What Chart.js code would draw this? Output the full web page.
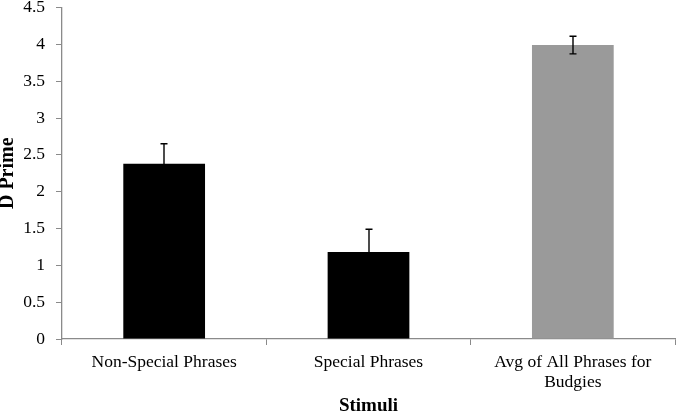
<!DOCTYPE html>
<html>
<head>
<meta charset="utf-8">
<script src="https://cdn.jsdelivr.net/npm/chart.js@4"></script>
<style>
  html, body { margin: 0; padding: 0; background: #fff; }
  #wrap { width: 676px; height: 417px; }
</style>
</head>
<body>
<div id="wrap"><canvas id="c" width="676" height="417"></canvas></div>
<script>
const categories = ["Non-Special Phrases", "Special Phrases", ["Avg of All Phrases for", "Budgies"]];
const dPrime = [2.38, 1.18, 3.99];
const errors = [0.27, 0.31, 0.12];
const barColors = ["#000000", "#000000", "#9a9a9a"];
const yTicks = [0, 0.5, 1, 1.5, 2, 2.5, 3, 3.5, 4, 4.5];

const FONT = "'Liberation Serif', 'Times New Roman', serif";

const errorBarPlugin = {
  id: 'errorBars',
  afterDatasetsDraw(chart) {
    const ctx = chart.ctx;
    const meta = chart.getDatasetMeta(0);
    const y = chart.scales.y;
    ctx.save();
    ctx.strokeStyle = '#000';
    ctx.lineWidth = 1.4;
    meta.data.forEach((bar, i) => {
      const v = dPrime[i], e = errors[i];
      const yt = y.getPixelForValue(v + e);
      const yb = y.getPixelForValue(v - e);
      const x = Math.round(bar.x);
      ctx.beginPath();
      ctx.moveTo(x, yt); ctx.lineTo(x, yb);
      ctx.moveTo(x - 3.5, yt); ctx.lineTo(x + 3.5, yt);
      ctx.moveTo(x - 3.5, yb); ctx.lineTo(x + 3.5, yb);
      ctx.stroke();
    });
    ctx.restore();
  }
};

new Chart(document.getElementById('c'), {
  type: 'bar',
  data: {
    labels: categories,
    datasets: [{
      data: dPrime,
      backgroundColor: barColors,
      borderWidth: 0,
      barPercentage: 0.4,
      categoryPercentage: 1.0
    }]
  },
  options: {
    responsive: false,
    animation: false,
    devicePixelRatio: 1,
    layout: { padding: { top: 0, right: 1, bottom: 0, left: 0 } },
    plugins: { legend: { display: false }, tooltip: { enabled: false } },
    scales: {
      x: {
        grid: { display: true, drawOnChartArea: false, drawTicks: true, tickLength: 6, color: '#8a8a8a', lineWidth: 1, offset: true },
        border: { display: true, color: '#8a8a8a', width: 1.3 },
        ticks: { color: '#000', font: { family: FONT, size: 17.5, lineHeight: 1.15 }, padding: 7, maxRotation: 0, autoSkip: false },
        title: { display: true, text: 'Stimuli', color: '#000', font: { family: FONT, size: 19, weight: 'bold', lineHeight: 1.2 }, padding: { top: 0, bottom: 0 } },
        afterFit(s) { s.height = 78; s.paddingLeft = 0; s.paddingRight = 1; }
      },
      y: {
        min: 0, max: 4.5,
        afterBuildTicks(s) { s.ticks = yTicks.map(v => ({ value: v })); },
        grid: { display: true, drawOnChartArea: false, drawTicks: true, tickLength: 6, color: '#8a8a8a', lineWidth: 1 },
        border: { display: true, color: '#8a8a8a', width: 1.3 },
        ticks: { color: '#000', font: { family: FONT, size: 17.5 }, padding: 11, callback: v => String(v) },
        title: { display: true, text: 'D Prime', color: '#000', font: { family: FONT, size: 20, weight: 'bold', lineHeight: 0.8 }, padding: { top: 0, bottom: 0 } },
        afterFit(s) { s.width = 62; s.paddingTop = 7.5; s.paddingBottom = 0; }
      }
    }
  },
  plugins: [errorBarPlugin]
});
</script>
</body>
</html>
